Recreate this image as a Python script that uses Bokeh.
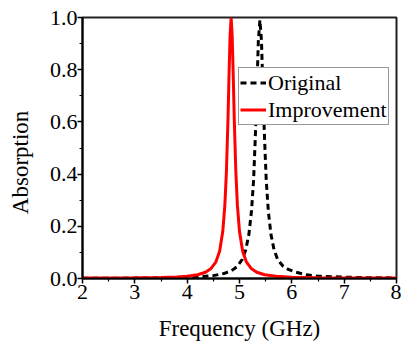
from bokeh.plotting import figure
from bokeh.models import Range1d, FixedTicker, Legend, LegendItem, CustomJSTickFormatter
from bokeh.embed import file_html
from bokeh.resources import INLINE

# Original (black dashed) absorption spectrum
orig_freq = [2.0, 3.0, 3.5, 4.0, 4.3, 4.5, 4.7, 4.85, 4.95, 5.05, 5.12, 5.18, 5.23, 5.27,
             5.30, 5.33, 5.36, 5.39, 5.42, 5.45, 5.48, 5.51, 5.55, 5.60, 5.66, 5.73,
             5.83, 5.93, 6.08, 6.28, 6.5, 7.0, 7.5, 8.0]
orig_abs = [0.0008, 0.0016, 0.0025, 0.0047, 0.0075, 0.011, 0.019, 0.030, 0.045, 0.072,
            0.11, 0.17, 0.26, 0.38, 0.53, 0.71, 0.91, 0.99, 0.91, 0.71, 0.53, 0.38,
            0.26, 0.17, 0.11, 0.072, 0.048, 0.035, 0.024, 0.014, 0.009, 0.005, 0.003, 0.002]

# Improvement (red solid) absorption spectrum
impr_freq = [2.0, 2.5, 3.0, 3.5, 3.8, 4.0, 4.2, 4.35, 4.45, 4.55, 4.62, 4.68, 4.72, 4.75,
             4.78, 4.80, 4.82, 4.84, 4.86, 4.88, 4.90, 4.93, 4.96, 5.00, 5.06, 5.13,
             5.23, 5.33, 5.48, 5.7, 6.0, 6.5, 7.0, 7.5, 8.0]
impr_abs = [0.0015, 0.002, 0.0025, 0.004, 0.006, 0.009, 0.0145, 0.024, 0.037, 0.064,
            0.104, 0.18, 0.28, 0.41, 0.61, 0.78, 0.93, 1.0, 0.93, 0.78, 0.61, 0.41,
            0.28, 0.18, 0.104, 0.064, 0.037, 0.024, 0.0145, 0.0085, 0.005, 0.003,
            0.0022, 0.0018, 0.0015]

x_ticks = [2, 3, 4, 5, 6, 7, 8]
y_ticks = [0.0, 0.2, 0.4, 0.6, 0.8, 1.0]
x_minor = [2.5, 3.5, 4.5, 5.5, 6.5, 7.5]
y_minor = [0.1, 0.3, 0.5, 0.7, 0.9]

FONT = "Liberation Serif"

p = figure(output_backend="svg", toolbar_location=None,
           x_range=Range1d(2, 8), y_range=Range1d(0, 1.0),
           frame_width=314, frame_height=261,
           min_border_left=82, min_border_right=5, min_border_top=17, min_border_bottom=0)
p.background_fill_color = "white"
p.border_fill_color = "white"
p.grid.visible = False
p.outline_line_color = "#222222"
p.outline_line_width = 2
p.outline_line_alpha = 1.0

l1 = p.line(orig_freq, orig_abs, line_color="black", line_width=3, line_dash="6 4")
l2 = p.line(impr_freq, impr_abs, line_color="#ff0000", line_width=3)

for ax in (p.xaxis[0], p.yaxis[0]):
    ax.axis_line_width = 2
    ax.axis_line_color = "black"
    ax.major_tick_line_color = "black"
    ax.minor_tick_line_color = "black"
    ax.major_tick_line_width = 1.5
    ax.minor_tick_line_width = 1.2
    ax.major_tick_out = 5
    ax.major_tick_in = 0
    ax.minor_tick_out = 3
    ax.minor_tick_in = 0
    ax.major_label_text_font = FONT
    ax.major_label_text_font_size = "22px"
    ax.major_label_text_color = "black"
    ax.axis_label_text_font = FONT
    ax.axis_label_text_font_size = "23px"
    ax.axis_label_text_font_style = "normal"
    ax.axis_label_text_color = "black"

p.xaxis.ticker = FixedTicker(ticks=x_ticks, minor_ticks=x_minor)
p.yaxis.ticker = FixedTicker(ticks=y_ticks, minor_ticks=y_minor)
p.yaxis.formatter = CustomJSTickFormatter(code="return tick.toFixed(1);")
p.xaxis.axis_label = "Frequency (GHz)"
# trailing no-break spaces push the visible label slightly below the frame centre
p.yaxis.axis_label = "Absorption" + "\u00a0" * 5
p.xaxis.major_label_standoff = 1
p.xaxis.axis_label_standoff = 14
p.yaxis.major_label_standoff = 0
p.yaxis.axis_label_standoff = 14

legend = Legend(items=[LegendItem(label="Original", renderers=[l1]),
                       LegendItem(label="Improvement", renderers=[l2])],
                location=(156, 153))
legend.label_text_font = FONT
legend.label_text_font_size = "22px"
legend.label_text_color = "black"
legend.glyph_width = 26
legend.glyph_height = 27
legend.label_standoff = 2
legend.spacing = 0
legend.padding = 1
legend.margin = 0
legend.label_height = 27
legend.border_line_color = "#333333"
legend.border_line_width = 1.2
legend.background_fill_color = "white"
legend.background_fill_alpha = 1.0
p.add_layout(legend)

open("out.html", "w").write(file_html(p, INLINE))
